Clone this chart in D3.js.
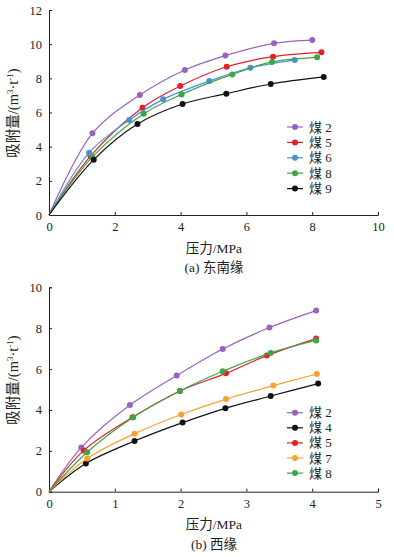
<!DOCTYPE html>
<html><head><meta charset="utf-8">
<script src="https://cdn.jsdelivr.net/npm/d3@7"></script>
<style>body{margin:0;background:#fff}svg{display:block}</style>
</head><body>
<script>
// ---- Data: (a) 东南缘 ----
const seA = ["煤 2","煤 5","煤 6","煤 8","煤 9"];
const pA2 = [1.32,2.76,4.13,5.36,6.84,8.00];
const vA2 = [4.78,7.02,8.49,9.33,10.05,10.24];
const pA5 = [1.26,2.84,3.99,5.40,6.81,8.28];
const vA5 = [3.45,6.28,7.55,8.68,9.27,9.52];
const pA6 = [1.22,2.44,3.47,4.87,6.12,7.47];
const vA6 = [3.65,5.56,6.77,7.84,8.62,9.07];
const pA8 = [1.32,2.88,4.03,5.57,6.78,8.15];
const vA8 = [3.40,5.93,7.06,8.23,8.96,9.23];
const pA9 = [1.36,2.69,4.06,5.39,6.74,8.35];
const vA9 = [3.24,5.33,6.50,7.10,7.67,8.08];
// ---- Data: (b) 西缘 ----
const seB = ["煤 2","煤 4","煤 5","煤 7","煤 8"];
const pB2 = [0.49,1.23,1.94,2.64,3.35,4.06];
const vB2 = [2.16,4.24,5.68,6.98,8.03,8.86];
const pB4 = [0.56,1.30,2.03,2.68,3.37,4.09];
const vB4 = [1.38,2.48,3.38,4.08,4.68,5.29];
const pB5 = [0.53,1.27,1.99,2.69,3.31,4.06];
const vB5 = [2.02,3.64,4.93,5.79,6.66,7.49];
const pB7 = [0.58,1.30,2.01,2.69,3.41,4.07];
const vB7 = [1.62,2.84,3.78,4.53,5.19,5.76];
const pB8 = [0.58,1.28,1.99,2.64,3.37,4.06];
const vB8 = [1.93,3.64,4.93,5.89,6.79,7.40];
const xTicksA = [0,2,4,6,8,10], yTicksA = [0,2,4,6,8,10,12];
const xTicksB = [0,1,2,3,4,5], yTicksB = [0,2,4,6,8,10];

const C = {purple:"#9a62c0", red:"#e3202a", blue:"#4b8fd6", green:"#3da547", black:"#111", orange:"#f7a233"};
const FONT = "'Liberation Serif','Times New Roman','Noto Sans CJK SC',serif";

const svg = d3.select("body").append("svg").attr("width",394).attr("height",557)
  .style("font-family",FONT);

function panel(cfg){
  const g = svg.append("g");
  const x = d3.scaleLinear().domain(cfg.xd).range([49,378]);
  const y = d3.scaleLinear().domain(cfg.yd).range(cfg.yr);
  const xa = g.append("g").attr("transform",`translate(0,${cfg.yr[0]})`)
    .call(d3.axisBottom(x).tickValues(cfg.xt).tickSize(-3).tickPadding(7).tickFormat(d3.format("d")));
  const ya = g.append("g").attr("transform",`translate(49,0)`)
    .call(d3.axisLeft(y).tickValues(cfg.yt).tickSize(-3).tickPadding(7).tickFormat(d3.format("d")));
  [xa,ya].forEach(a=>{
    a.select(".domain").attr("stroke","#222").attr("stroke-width",1);
    a.selectAll(".tick line").attr("stroke","#222");
    a.selectAll(".tick text").attr("fill","#222").style("font-size","12.5px").style("font-family",FONT);
  });
  const line = d3.line().x(d=>x(d[0])).y(d=>y(d[1])).curve(d3.curveCatmullRom.alpha(0.5));
  cfg.series.forEach((s,i)=>{
    const pts = s.p.map((p,j)=>[p,s.v[j]]);
    g.append("path").datum([[0,0],...pts]).attr("d",line)
      .attr("fill","none").attr("stroke",s.c).attr("stroke-width",1.2);
    g.selectAll(null).data(pts).enter().append("circle")
      .attr("cx",d=>x(d[0])).attr("cy",d=>y(d[1])).attr("r",3).attr("fill",s.c);
    const ly = cfg.ly0 + i*cfg.lstep;
    g.append("line").attr("x1",287).attr("x2",303).attr("y1",ly).attr("y2",ly)
      .attr("stroke",s.c).attr("stroke-width",1.2);
    g.append("circle").attr("cx",295).attr("cy",ly).attr("r",3).attr("fill",s.c);
    g.append("text").attr("x",309).attr("y",ly+4.5).text(s.name)
      .style("font-size","13px").attr("fill","#222");
  });
  const mid = cfg.labMid;
  g.append("text").attr("transform",`translate(18,${mid}) rotate(-90)`).attr("text-anchor","middle")
    .style("font-size","14.5px").attr("fill","#222").html("吸附量/(m<tspan dy='-5' font-size='9'>3</tspan><tspan dy='5'>·t</tspan><tspan dy='-5' font-size='9'>-1</tspan><tspan dy='5'>)</tspan>");
  g.append("text").attr("x",214).attr("y",cfg.xlY).attr("text-anchor","middle")
    .style("font-size","13.5px").attr("fill","#222").text("压力/MPa");
  g.append("text").attr("x",214).attr("y",cfg.capY).attr("text-anchor","middle")
    .style("font-size","13.5px").attr("fill","#222").text(cfg.cap);
}

panel({xd:[0,10], yd:[0,12], yr:[215,10], xt:xTicksA, yt:yTicksA, xlY:253, capY:272, cap:"(a) 东南缘",
  ly0:127, lstep:15.4, labMid:113,
  series:[
    {name:seA[0],p:pA2,v:vA2,c:C.purple},
    {name:seA[1],p:pA5,v:vA5,c:C.red},
    {name:seA[2],p:pA6,v:vA6,c:C.blue},
    {name:seA[3],p:pA8,v:vA8,c:C.green},
    {name:seA[4],p:pA9,v:vA9,c:C.black}]});
panel({xd:[0,5], yd:[0,10], yr:[491.7,287.3], xt:xTicksB, yt:yTicksB, xlY:529, capY:549, cap:"(b) 西缘",
  ly0:412.7, lstep:15.1, labMid:380,
  series:[
    {name:seB[0],p:pB2,v:vB2,c:C.purple},
    {name:seB[1],p:pB4,v:vB4,c:C.black},
    {name:seB[2],p:pB5,v:vB5,c:C.red},
    {name:seB[3],p:pB7,v:vB7,c:C.orange},
    {name:seB[4],p:pB8,v:vB8,c:C.green}]});
</script>
</body></html>
